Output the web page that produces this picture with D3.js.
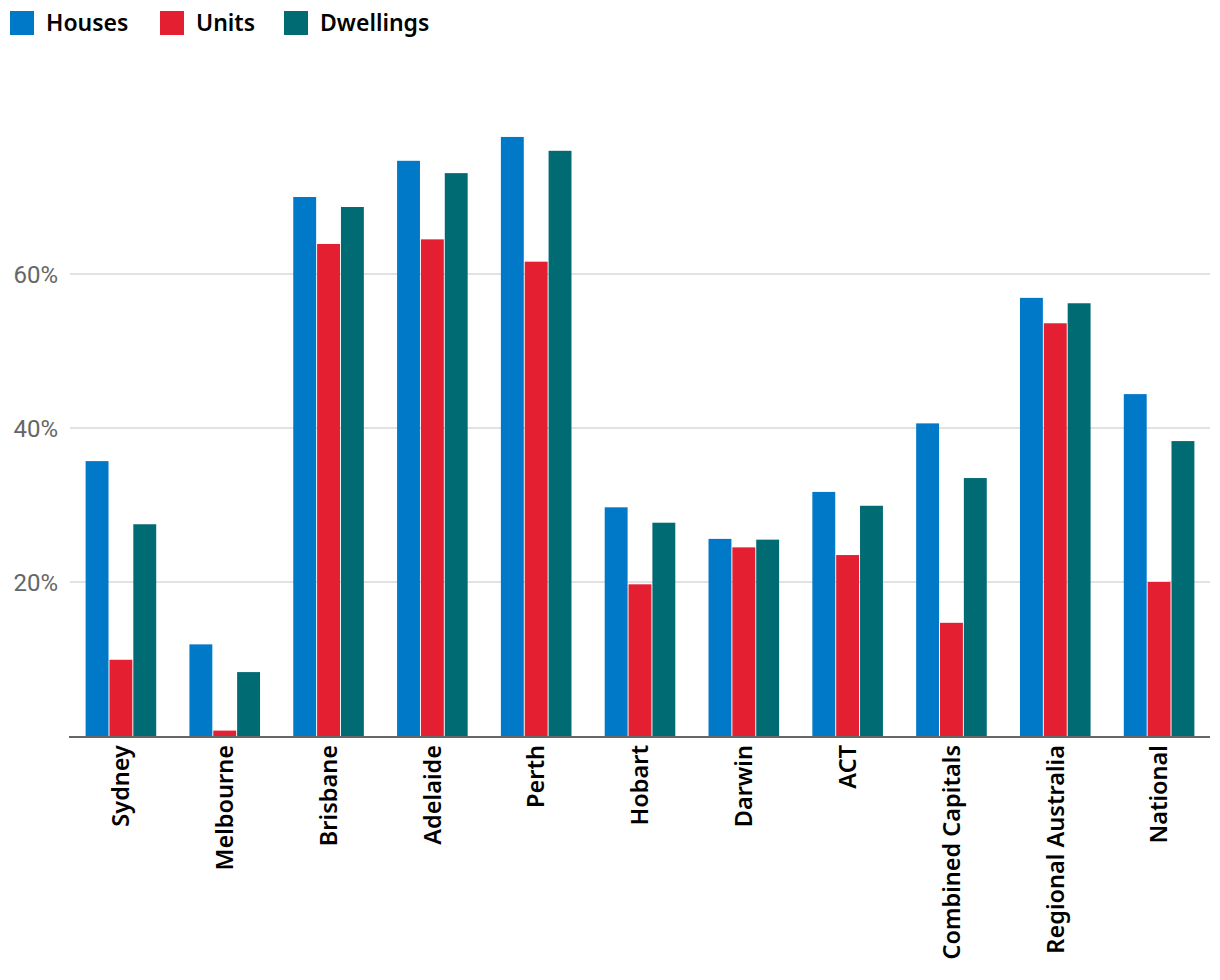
<!DOCTYPE html>
<html>
<head>
<meta charset="utf-8">
<script src="https://cdn.jsdelivr.net/npm/d3@7"></script>
<style>
  body { margin: 0; background: #fff; }
  svg { display: block; }
</style>
</head>
<body>
<div id="chart"></div>
<script>
var regions = ["Sydney", "Melbourne", "Brisbane", "Adelaide", "Perth", "Hobart",
	"Darwin", "ACT", "Combined Capitals", "Regional Australia", "National"]
var seriesNames = ["Houses", "Units", "Dwellings"]
var seriesColors = ["#0079c8", "#e31f31", "#006b73"]

// percentage values
var houses    = [35.7, 11.9, 70.0, 74.7, 77.8, 29.7, 25.6, 31.7, 40.6, 56.9, 44.4]
var units     = [9.9, 0.7, 63.9, 64.5, 61.6, 19.7, 24.5, 23.5, 14.7, 53.6, 20.0]
var dwellings = [27.5, 8.3, 68.7, 73.1, 76.0, 27.7, 25.5, 29.9, 33.5, 56.2, 38.3]
var yTicks = [20, 40, 60]

var data = regions.map(function(r, i){
	return {region: r, values: [houses[i], units[i], dwellings[i]]}
})

var width = 1220, height = 980
var margin = {left: 69, right: 9, top: 120, bottom: 244}

var svg = d3.select("#chart").append("svg")
	.attr("width", width)
	.attr("height", height)

var x0 = d3.scaleBand()
	.domain(regions)
	.range([margin.left, width - margin.right])
	.paddingInner(0.32)
	.paddingOuter(0.16)

var x1 = d3.scaleBand()
	.domain(seriesNames)
	.range([0, x0.bandwidth()])
	.paddingInner(0.04)

var y = d3.scaleLinear()
	.domain([0, 80])
	.range([height - margin.bottom, margin.top])

//gridlines
svg.append("g")
	.selectAll("line")
	.data(yTicks)
	.enter()
	.append("line")
	.attr("x1", margin.left + 1)
	.attr("x2", 1210)
	.attr("y1", function(d){ return y(d) })
	.attr("y2", function(d){ return y(d) })
	.style("stroke", "#d9d9d9")
	.style("stroke-width", 1.5)

//y labels
svg.append("g")
	.selectAll("text")
	.data(yTicks)
	.enter()
	.append("text")
	.attr("x", 58)
	.attr("y", function(d){ return y(d) })
	.attr("dy", "0.36em")
	.attr("text-anchor", "end")
	.style("font-family", "Roboto, 'Liberation Sans', sans-serif")
	.style("font-weight", 400)
	.style("font-size", "24px")
	.style("fill", "#666")
	.text(function(d){ return d + "%" })

//bars
var group = svg.append("g")
	.selectAll("g")
	.data(data)
	.enter()
	.append("g")
	.attr("transform", function(d){ return "translate(" + x0(d.region) + ",0)" })

group.selectAll("rect")
	.data(function(d){
		return d.values.map(function(v, i){ return {key: seriesNames[i], value: v, color: seriesColors[i]} })
	})
	.enter()
	.append("rect")
	.attr("x", function(d){ return x1(d.key) })
	.attr("width", x1.bandwidth())
	.attr("y", function(d){ return y(d.value) })
	.attr("height", function(d){ return y(0) - y(d.value) })
	.style("fill", function(d){ return d.color })

//baseline
svg.append("line")
	.attr("x1", margin.left)
	.attr("x2", 1210)
	.attr("y1", y(0) + 1)
	.attr("y2", y(0) + 1)
	.style("stroke", "#666")
	.style("stroke-width", 2)

//x labels, rotated
svg.append("g")
	.selectAll("text")
	.data(regions)
	.enter()
	.append("text")
	.attr("transform", function(d){
		return "translate(" + (x0(d) + x0.bandwidth() / 2) + "," + (y(0) + 9) + ") rotate(-90)"
	})
	.attr("dy", "0.35em")
	.attr("text-anchor", "end")
	.style("font-family", "'Noto Sans', sans-serif")
	.style("font-weight", 600)
	.style("font-size", "23.5px")
	.style("fill", "#000")
	.text(function(d){ return d })

//legend
var legend = svg.append("g")
	.selectAll("g")
	.data(seriesNames)
	.enter()
	.append("g")
	.attr("transform", function(d, i){ return "translate(" + [10, 160, 284][i] + ",11)" })

legend.append("rect")
	.attr("width", 24)
	.attr("height", 24)
	.style("fill", function(d, i){ return seriesColors[i] })

legend.append("text")
	.attr("x", 36)
	.attr("y", 12)
	.attr("dy", "0.35em")
	.style("font-family", "'Noto Sans', sans-serif")
	.style("font-weight", 600)
	.style("font-size", "23px")
	.style("fill", "#000")
	.text(function(d){ return d })
</script>
</body>
</html>
